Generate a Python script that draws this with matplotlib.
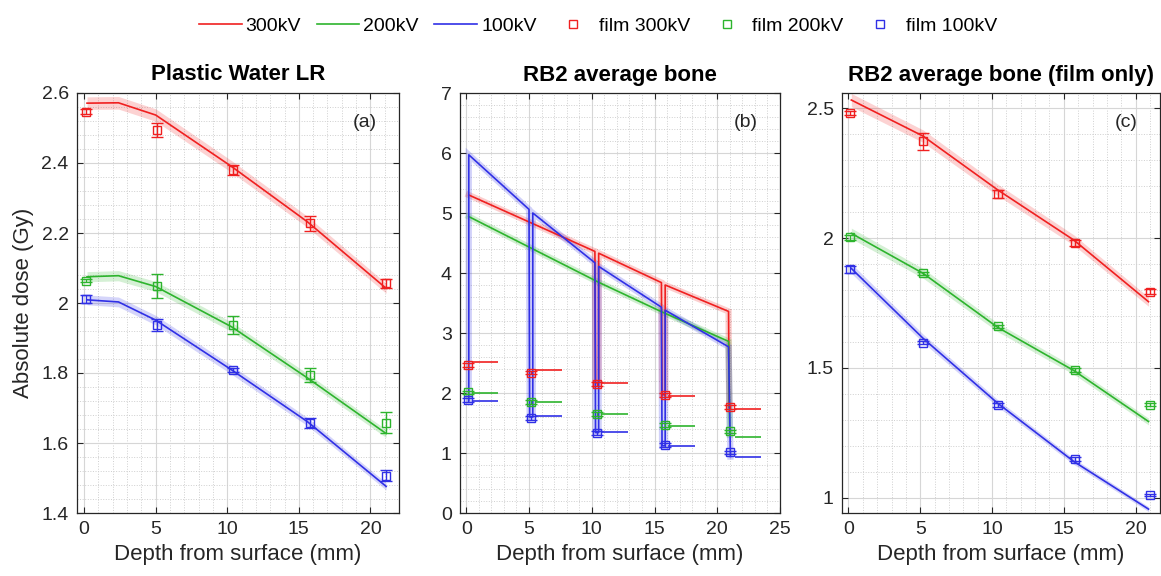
import matplotlib
matplotlib.use('Agg')
import matplotlib.pyplot as plt
from matplotlib.lines import Line2D
from matplotlib.ticker import MultipleLocator, FuncFormatter
import numpy as np

plt.rcParams['font.family'] = ['Liberation Sans', 'DejaVu Sans']

# ---------------- data ----------------
energies = ['300kV', '200kV', '100kV']
film_labels = ['film 300kV', 'film 200kV', 'film 100kV']

# Panel (a) Plastic Water LR
film_depth_a = [0.1, 5.1, 10.4, 15.75, 21.1]
film_300_a = [2.547, 2.494, 2.380, 2.228, 2.056]
film_200_a = [2.064, 2.049, 1.937, 1.794, 1.658]
film_100_a = [2.011, 1.937, 1.809, 1.658, 1.507]
err_300_a = [0.008, 0.020, 0.015, 0.022, 0.012]
err_200_a = [0.005, 0.035, 0.025, 0.020, 0.030]
err_100_a = [0.011, 0.018, 0.005, 0.014, 0.016]
mc_depth_a = [0.2, 2.4, 5.0, 10.3, 15.6, 21.1]
mc_300_a = [2.571, 2.572, 2.537, 2.390, 2.232, 2.042]
mc_200_a = [2.075, 2.078, 2.047, 1.932, 1.786, 1.627]
mc_100_a = [2.009, 2.003, 1.951, 1.809, 1.661, 1.476]

# Panel (b) RB2 average bone
film_depth_b = [0.1, 5.15, 10.4, 15.8, 21.0]
film_300_b = [2.47, 2.34, 2.15, 1.97, 1.77]
film_200_b = [2.01, 1.85, 1.65, 1.47, 1.36]
film_100_b = [1.88, 1.58, 1.33, 1.13, 1.01]
err_300_b = [0.03, 0.03, 0.03, 0.03, 0.03]
err_200_b = [0.03, 0.03, 0.03, 0.03, 0.03]
err_100_b = [0.03, 0.03, 0.03, 0.03, 0.03]
mc_300_b_depth = [0.2, 10.25, 10.3, 10.55, 10.55, 15.55, 15.6, 15.85, 15.85, 20.9, 20.95]
mc_300_b_dose = [5.30, 4.36, 2.17, 2.17, 4.33, 3.84, 1.97, 1.97, 3.80, 3.36, 1.76]
mc_200_b_depth = [0.2, 10.6, 15.5, 20.9, 21.0]
mc_200_b_dose = [4.94, 3.84, 3.36, 2.86, 1.30]
mc_100_b_depth = [0.2, 0.2, 5.0, 5.05, 5.3, 5.3, 10.25, 10.3, 10.55, 10.55,
                  15.55, 15.6, 15.85, 15.85, 20.9, 21.05]
mc_100_b_dose = [1.87, 5.97, 5.06, 1.60, 1.60, 5.00, 4.17, 1.34, 1.34, 4.11,
                 3.43, 1.12, 1.12, 3.38, 2.77, 0.94]
seg_start_b = [0.45, 5.5, 10.75, 16.1, 21.4]
seg_end_b = [2.55, 7.65, 12.9, 18.2, 23.5]
seg_300_b = [2.51, 2.38, 2.17, 1.95, 1.73]
seg_200_b = [2.00, 1.85, 1.65, 1.45, 1.27]
seg_100_b = [1.87, 1.61, 1.35, 1.11, 0.94]

# Panel (c) RB2 average bone (film only)
film_depth_c = [0.1, 5.2, 10.45, 15.75, 21.0]
film_300_c = [2.482, 2.373, 2.169, 1.982, 1.794]
film_200_c = [2.003, 1.864, 1.660, 1.492, 1.358]
film_100_c = [1.879, 1.597, 1.358, 1.150, 1.012]
err_300_c = [0.008, 0.033, 0.015, 0.012, 0.008]
err_200_c = [0.010, 0.006, 0.005, 0.006, 0.006]
err_100_c = [0.012, 0.006, 0.008, 0.006, 0.005]
mc_depth_c = [0.2, 5.2, 10.4, 15.7, 20.9]
mc_300_c = [2.531, 2.392, 2.185, 1.992, 1.755]
mc_200_c = [2.018, 1.864, 1.656, 1.490, 1.294]
mc_100_c = [1.883, 1.614, 1.364, 1.140, 0.957]

# ---------------- style ----------------
colors = ['#f02020', '#2db42d', '#3030e6']
W, H = 1161, 576
fig = plt.figure(figsize=(W / 100, H / 100), dpi=100)


def px_axes(l, t, r, b):
    return fig.add_axes([l / W, 1 - b / H, (r - l) / W, (b - t) / H])


def style_axes(ax, xlim, ylim, xmaj, xmin, ymaj, ymin, title, tag):
    ax.set_xlim(*xlim)
    ax.set_ylim(*ylim)
    ax.xaxis.set_major_locator(MultipleLocator(xmaj))
    ax.xaxis.set_minor_locator(MultipleLocator(xmin))
    ax.yaxis.set_major_locator(MultipleLocator(ymaj))
    ax.yaxis.set_minor_locator(MultipleLocator(ymin))
    fmt = FuncFormatter(lambda v, p: f'{v:g}')
    ax.xaxis.set_major_formatter(fmt)
    ax.yaxis.set_major_formatter(fmt)
    ax.grid(True, which='major', color='#d6d6d6', lw=0.8, ls='-')
    ax.grid(True, which='minor', color='#cfcfcf', lw=0.7, ls=':')
    ax.set_axisbelow(True)
    ax.tick_params(which='major', direction='in', top=True, right=True,
                   length=4, width=0.8, labelsize=14, colors='#262626', pad=6)
    ax.tick_params(which='minor', length=0)
    for s in ax.spines.values():
        s.set_color('#262626')
        s.set_linewidth(0.9)
    ax.set_title(title, fontsize=16, fontweight='bold', pad=9)
    ax.set_xlabel('Depth from surface (mm)', fontsize=16, color='#262626', labelpad=4)
    ax.text(0.93, 0.93, tag, transform=ax.transAxes, ha='right', va='center',
            fontsize=14, color='#262626')


def film(ax, x, y, e, c):
    ax.errorbar(x, y, yerr=e, fmt='s', mfc='none', mec=c, ecolor=c, ms=6,
                mew=1.0, elinewidth=1.0, capsize=4, capthick=1.0, zorder=5)


# ---------------- panel (a) ----------------
ax_a = px_axes(77, 93, 399, 513)
band_a = 0.007
for mc, c in zip([mc_300_a, mc_200_a, mc_100_a], colors):
    m = np.array(mc)
    ax_a.fill_between(mc_depth_a, m * (1 - band_a), m * (1 + band_a),
                      color=c, alpha=0.2, lw=0, zorder=2)
    ax_a.plot(mc_depth_a, mc, color=c, lw=1.2, zorder=3)
for f, e, c in zip([film_300_a, film_200_a, film_100_a],
                   [err_300_a, err_200_a, err_100_a], colors):
    film(ax_a, film_depth_a, f, e, c)
style_axes(ax_a, (-0.5, 22), (1.4, 2.6), 5, 1, 0.2, 0.04, 'Plastic Water LR', '(a)')
ax_a.set_ylabel('Absolute dose (Gy)', fontsize=16, color='#262626', labelpad=5)

# ---------------- panel (b) ----------------
ax_b = px_axes(460, 93, 780, 513)
for (xd, yd), c in zip([(mc_300_b_depth, mc_300_b_dose),
                        (mc_200_b_depth, mc_200_b_dose),
                        (mc_100_b_depth, mc_100_b_dose)], colors):
    ax_b.plot(xd, yd, color=c, lw=4.5, alpha=0.22, zorder=2, solid_joinstyle='miter')
    ax_b.plot(xd, yd, color=c, lw=1.2, zorder=3)
for seg, c in zip([seg_300_b, seg_200_b, seg_100_b], colors):
    ax_b.hlines(seg, seg_start_b, seg_end_b, color=c, lw=1.2, zorder=3)
for f, e, c in zip([film_300_b, film_200_b, film_100_b],
                   [err_300_b, err_200_b, err_100_b], colors):
    film(ax_b, film_depth_b, f, e, c)
style_axes(ax_b, (-0.5, 25), (0, 7), 5, 1, 1, 0.2, 'RB2 average bone', '(b)')

# ---------------- panel (c) ----------------
ax_c = px_axes(842, 93, 1160, 513)
band_c = 0.01
for mc, c in zip([mc_300_c, mc_200_c, mc_100_c], colors):
    m = np.array(mc)
    ax_c.fill_between(mc_depth_c, m * (1 - band_c), m * (1 + band_c),
                      color=c, alpha=0.2, lw=0, zorder=2)
    ax_c.plot(mc_depth_c, mc, color=c, lw=1.2, zorder=3)
for f, e, c in zip([film_300_c, film_200_c, film_100_c],
                   [err_300_c, err_200_c, err_100_c], colors):
    film(ax_c, film_depth_c, f, e, c)
style_axes(ax_c, (-0.45, 21.7), (0.942, 2.558), 5, 1, 0.5, 0.1,
           'RB2 average bone (film only)', '(c)')

# ---------------- legend ----------------
handles = [Line2D([], [], color=c, lw=1.2) for c in colors] + \
          [Line2D([], [], color=c, marker='s', ls='none', mfc='none', ms=6, mew=1.0)
           for c in colors]
labels = energies + film_labels
fig.legend(handles, labels, loc='center', bbox_to_anchor=(0.515, 0.955), ncol=6,
           frameon=False, fontsize=14, handlelength=2.2, handletextpad=0.2,
           columnspacing=0.8)

fig.savefig('out.png', dpi=100)
